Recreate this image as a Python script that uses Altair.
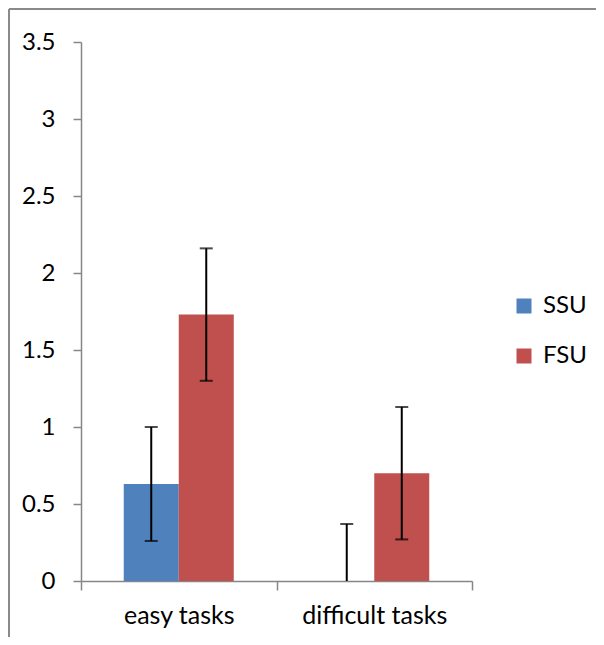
import altair as alt
import pandas as pd

categories = ["easy tasks", "difficult tasks"]
series = ["SSU", "FSU"]
ssu_values = [0.63, 0.0]
fsu_values = [1.73, 0.70]
ssu_low = [0.26, 0.0]
ssu_high = [1.00, 0.37]
fsu_low = [1.30, 0.27]
fsu_high = [2.16, 1.13]
colors = ["#4F81BD", "#C0504D"]
y_ticks = [0, 0.5, 1, 1.5, 2, 2.5, 3, 3.5]

rows = []
for i, c in enumerate(categories):
    rows.append({"category": c, "series": "SSU", "value": ssu_values[i], "low": ssu_low[i], "high": ssu_high[i]})
    rows.append({"category": c, "series": "FSU", "value": fsu_values[i], "low": fsu_low[i], "high": fsu_high[i]})
df = pd.DataFrame(rows)

FONT = "Lato"
GREY = "#868686"

x_scale = alt.Scale(paddingInner=0, paddingOuter=0)
x_axis = alt.Axis(title=None, labelAngle=0, tickBand="extent")
y_scale = alt.Scale(domain=[0, 3.5], nice=False)
y_axis = alt.Axis(title=None, values=y_ticks, grid=False, format="~g")


def xe():
    return alt.X("category:N", sort=categories, scale=x_scale, axis=x_axis)


def xo():
    return alt.XOffset("series:N", sort=series,
                       scale=alt.Scale(paddingOuter=0.777, paddingInner=0))


def ye(field):
    return alt.Y(field, scale=y_scale, axis=y_axis)


base = alt.Chart(df)

bars = base.mark_bar().encode(
    x=xe(),
    xOffset=xo(),
    y=ye("value:Q"),
    color=alt.Color("series:N", sort=series,
                    scale=alt.Scale(domain=series, range=colors),
                    legend=alt.Legend(title=None, orient="none", legendX=431, legendY=252,
                                      symbolType="square", symbolSize=225,
                                      symbolStrokeWidth=0, labelFontSize=24,
                                      labelFont=FONT, labelColor="#000000",
                                      rowPadding=26, labelOffset=7)),
)

rules = base.mark_rule(color="#000000", strokeWidth=2).encode(
    x=xe(), xOffset=xo(),
    y=ye("low:Q"),
    y2="high:Q",
)

caps_high = base.mark_tick(color="#000000", thickness=2, size=13, orient="horizontal").encode(
    x=xe(), xOffset=xo(),
    y=ye("high:Q"),
)

caps_low = base.transform_filter("datum.low > 0").mark_tick(
    color="#000000", thickness=2, size=13, orient="horizontal").encode(
    x=xe(), xOffset=xo(),
    y=ye("low:Q"),
)

frame_df = pd.DataFrame({"k": [0]})
frame_left = alt.Chart(frame_df).mark_rule(color="#8a8a8a", strokeWidth=2).encode(
    x=alt.value(-72), y=alt.value(-33), y2=alt.value(600))
frame_top = alt.Chart(frame_df).mark_rule(color="#8a8a8a", strokeWidth=2).encode(
    x=alt.value(-72), x2=alt.value(520), y=alt.value(-33))

chart = alt.layer(bars, rules, caps_high, caps_low, frame_left, frame_top).properties(
    width=391, height=539,
    autosize=alt.AutoSizeParams(type="none"),
    padding={"left": 73, "top": 34, "right": 124, "bottom": 56},
    background="#ffffff",
).configure_view(stroke=None).configure_axis(
    domainColor=GREY, domainWidth=1.5, tickColor=GREY, tickWidth=1.5,
    labelFontSize=24, labelColor="#000000", labelFont=FONT,
).configure_axisX(tickSize=9, labelPadding=13, labelFontSize=25).configure_axisY(tickSize=8, labelPadding=18)

chart.save("out.html", embed_options={"renderer": "svg", "actions": False})
